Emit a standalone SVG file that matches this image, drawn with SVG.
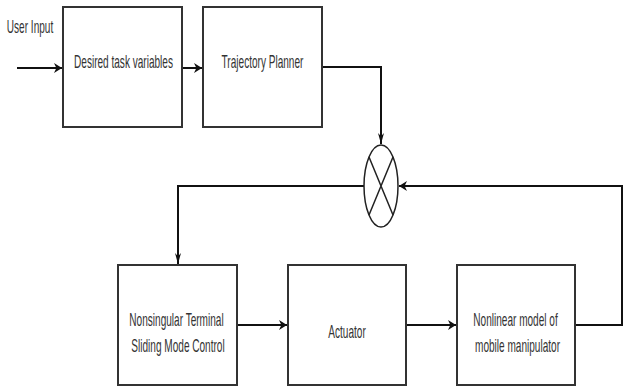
<svg xmlns="http://www.w3.org/2000/svg" width="623" height="388" viewBox="0 0 623 388">
<style>
.box{fill:#fff;stroke:#333;stroke-width:2}
.lbl{font-family:"Liberation Sans",Arial,sans-serif;font-size:19px;fill:#333;text-anchor:middle}
.ln{fill:none;stroke:#111;stroke-width:2}
.sum{fill:#fff;stroke:#222;stroke-width:1.5}
</style>
<defs>
<marker id="ah" markerUnits="userSpaceOnUse" viewBox="0 0 10 10" refX="10" refY="5" markerWidth="8" markerHeight="10" orient="auto" preserveAspectRatio="none">
<path d="M0,0 L10,5 L0,10 L3,5 z" fill="#111"/>
</marker>
<marker id="av" markerUnits="userSpaceOnUse" viewBox="0 0 10 10" refX="10" refY="5" markerWidth="11" markerHeight="6" orient="auto" preserveAspectRatio="none">
<path d="M0,0 L10,5 L0,10 L3,5 z" fill="#111"/>
</marker>
</defs>
<rect width="623" height="388" fill="#fff"/>
<g id="connectors">
<path class="ln" d="M17,68 H62" marker-end="url(#ah)"/>
<path class="ln" d="M182,68 H202" marker-end="url(#ah)"/>
<path class="ln" d="M322,67 H381 V144" marker-end="url(#av)"/>
<path class="ln" d="M575,325 H622 V186 H399" marker-end="url(#ah)"/>
<path class="ln" d="M364,186 H178 V264" marker-end="url(#av)"/>
<path class="ln" d="M237,325 H287" marker-end="url(#ah)"/>
<path class="ln" d="M406,325 H456" marker-end="url(#ah)"/>
</g>
<g id="user-input">
<text class="lbl" transform="translate(30,33) scale(0.53,1)">User Input</text>
</g>
<g id="desired-task-variables">
<rect class="box" x="63" y="7" width="119" height="120"/>
<text class="lbl" transform="translate(123.5,68) scale(0.53,1)">Desired task variables</text>
</g>
<g id="trajectory-planner">
<rect class="box" x="203" y="7" width="119" height="120"/>
<text class="lbl" transform="translate(262.5,68) scale(0.53,1)">Trajectory Planner</text>
</g>
<g id="summing-junction">
<ellipse class="sum" cx="381" cy="186" rx="17" ry="41"/>
<path class="sum" d="M369,157 L393,215 M393,157 L369,215"/>
</g>
<g id="ntsmc">
<rect class="box" x="118" y="265" width="119" height="120"/>
<text class="lbl" transform="translate(176.5,326) scale(0.53,1)">Nonsingular Terminal</text>
<text class="lbl" transform="translate(178,352) scale(0.53,1)">Sliding Mode Control</text>
</g>
<g id="actuator">
<rect class="box" x="288" y="265" width="118" height="120"/>
<text class="lbl" transform="translate(347,338) scale(0.53,1)">Actuator</text>
</g>
<g id="nonlinear-model">
<rect class="box" x="457" y="265" width="118" height="120"/>
<text class="lbl" transform="translate(515.5,326) scale(0.53,1)">Nonlinear model of</text>
<text class="lbl" transform="translate(517.5,352) scale(0.53,1)">mobile manipulator</text>
</g>
</svg>
